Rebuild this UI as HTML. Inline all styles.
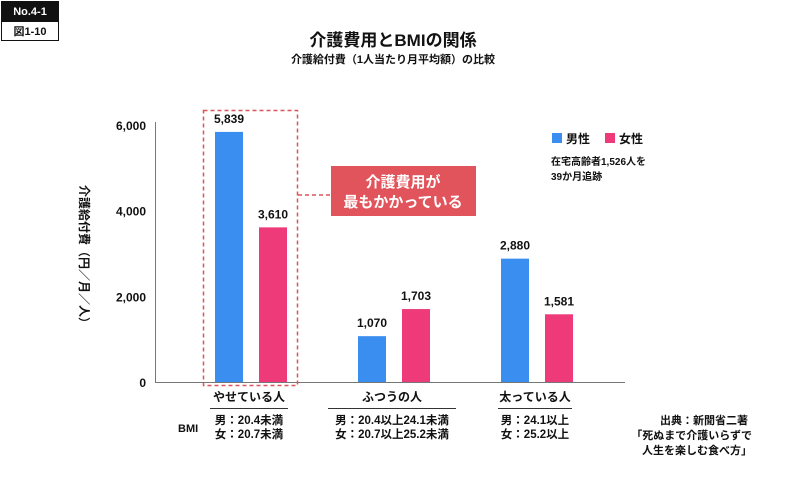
<!DOCTYPE html>
<html><head><meta charset="utf-8">
<style>
body{margin:0;background:#fff;font-family:"Liberation Sans","Noto Sans CJK JP",sans-serif;}
svg text{font-family:"Liberation Sans","Noto Sans CJK JP",sans-serif;font-weight:bold;fill:#111;}
</style></head><body>
<svg id="chart" width="786" height="482" viewBox="0 0 786 482">
<g>
<rect x="1" y="1" width="58" height="20" fill="#111"/>
<text x="30" y="15" font-size="11" text-anchor="middle" style="fill:#fff">No.4-1</text>
<rect x="1.5" y="21.5" width="57" height="19" fill="#fff" stroke="#111"/>
<text x="30" y="35" font-size="11" text-anchor="middle">図1-10</text>
</g>
<text x="393" y="46" font-size="17" text-anchor="middle">介護費用とBMIの関係</text>
<text x="393" y="63" font-size="11" text-anchor="middle">介護給付費（1人当たり月平均額）の比較</text>
<text x="0" y="0" font-size="12" transform="translate(80,185) rotate(90)" style="writing-mode:initial">介護給付費（円／月／人）</text>
<g id="axes"></g>
<g id="bars"></g>
<rect x="203.5" y="110.5" width="94" height="275" fill="none" stroke="#d9545c" stroke-width="1.5" stroke-dasharray="4,3"/>
<line x1="298" y1="195" x2="331" y2="195" stroke="#d9545c" stroke-width="1.5" stroke-dasharray="4,3"/>
<g>
<rect x="331" y="166" width="145" height="50" fill="#e2545b"/>
<text x="403" y="187" font-size="15" text-anchor="middle" style="fill:#fff">介護費用が</text>
<text x="403" y="207" font-size="15" text-anchor="middle" style="fill:#fff">最もかかっている</text>
</g>
<g>
<rect x="552" y="133" width="10" height="10" fill="#3a8ef0"/>
<text x="566" y="143" font-size="12">男性</text>
<rect x="605" y="133" width="10" height="10" fill="#ee3a79"/>
<text x="619" y="143" font-size="12">女性</text>
<text x="551" y="165" font-size="10">在宅高齢者1,526人を</text>
<text x="551" y="180" font-size="10">39か月追跡</text>
</g>
<text x="178" y="432" font-size="11">BMI</text>
<g font-size="10.5">
<text x="748" y="424" text-anchor="end" font-size="11">出典：新聞省二著</text>
<text x="752" y="439" text-anchor="end" font-size="11">「死ぬまで介護いらずで</text>
<text x="752" y="454" text-anchor="end" font-size="11">人生を楽しむ食べ方」</text>
</g>
</svg>
<script>
const categories=["やせている人","ふつうの人","太っている人"];
const maleValues=[5839,1070,2880];
const femaleValues=[3610,1703,1581];
const yTicks=[0,2000,4000,6000];
const bmiMale=["男：20.4未満","男：20.4以上24.1未満","男：24.1以上"];
const bmiFemale=["女：20.7未満","女：20.7以上25.2未満","女：25.2以上"];

const NS="http://www.w3.org/2000/svg";
const y0=382, yTop=125, yMax=6000;
function yScale(v){return y0-(v/yMax)*(y0-yTop);}
function xCenter(i){return 251+i*143;}
function fmt(v){return v.toLocaleString("en-US");}
function mk(tag,attrs,parent,txt){const e=document.createElementNS(NS,tag);for(const k in attrs)e.setAttribute(k,attrs[k]);if(txt!==undefined)e.textContent=txt;parent.appendChild(e);return e;}
const axes=document.getElementById("axes"), bars=document.getElementById("bars");
let l=mk("line",{x1:155.5,y1:yScale(yMax)-3,x2:155.5,y2:y0,stroke:"#777"},axes);


l=mk("line",{x1:155,y1:y0+0.5,x2:625,y2:y0+0.5,stroke:"#777"},axes);


yTicks.forEach(t=>{
  const e=mk("text",{x:146,y:yScale(t)+5,"font-size":12,"text-anchor":"end"},axes,fmt(t));
  
  
});
categories.forEach((c,i)=>{
  const cx=xCenter(i), w=28;
  const series=[[maleValues[i],cx-36,"#3a8ef0","male"],[femaleValues[i],cx+8,"#ee3a79","female"]];
  series.forEach(s=>{
    const r=mk("rect",{x:s[1],y:yScale(s[0]),width:w,height:y0-yScale(s[0]),fill:s[2]},bars);
    
    
    const t=mk("text",{x:s[1]+w/2,y:yScale(s[0])-9,"font-size":12,"text-anchor":"middle"},bars,fmt(s[0]));
    
    
  });
  const ct=mk("text",{x:cx-2,y:401,"font-size":12,"text-anchor":"middle"},bars,c);
  
  
  const hw=[39,64,37][i];
  const ul=mk("line",{x1:cx-2-hw,y1:408.5,x2:cx-2+hw,y2:408.5,stroke:"#333"},bars);
  
  
  const b1=mk("text",{x:cx-2,y:424,"font-size":11.5,"text-anchor":"middle"},bars,bmiMale[i]);
  
  
  const b2=mk("text",{x:cx-2,y:438,"font-size":11.5,"text-anchor":"middle"},bars,bmiFemale[i]);
  
  
});
</script>
</body></html>
